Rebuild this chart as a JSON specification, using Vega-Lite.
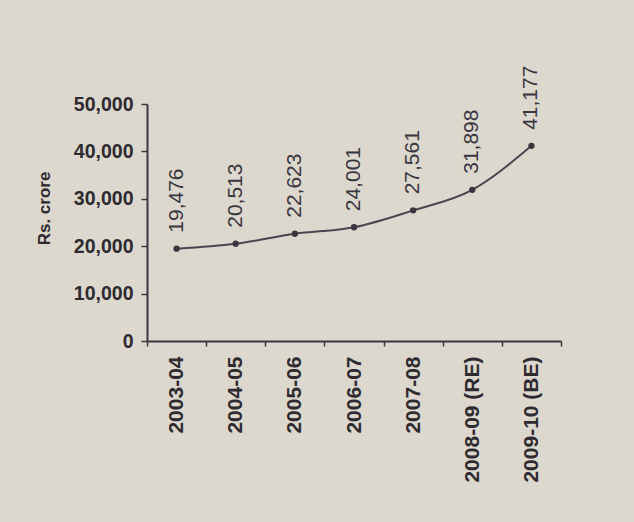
{
  "$schema": "https://vega.github.io/schema/vega-lite/v6.json",
  "autosize": "none",
  "padding": {"left": 147, "top": 104, "right": 73, "bottom": 181},
  "width": 414,
  "height": 237,
  "background": "#dcd8ce",
  "config": {
    "view": {"stroke": null},
    "font": "Liberation Sans"
  },
  "data": {
    "values": [
      {"year": "2003-04", "value": 19476},
      {"year": "2004-05", "value": 20513},
      {"year": "2005-06", "value": 22623},
      {"year": "2006-07", "value": 24001},
      {"year": "2007-08", "value": 27561},
      {"year": "2008-09 (RE)", "value": 31898},
      {"year": "2009-10 (BE)", "value": 41177}
    ]
  },
  "encoding": {
    "x": {
      "field": "year", "type": "ordinal", "sort": null,
      "scale": {"paddingInner": 0, "paddingOuter": 0},
      "axis": {
        "title": null, "labelAngle": -90, "labelAlign": "right", "labelBaseline": "middle",
        "labelFont": "Liberation Sans", "labelFontWeight": "bold", "labelFontSize": 21,
        "labelColor": "#2e2a30", "labelPadding": 10,
        "domainColor": "#3a3640", "domainWidth": 2, "tickColor": "#3a3640", "tickWidth": 1.5,
        "tickSize": 5, "tickBand": "extent"
      }
    },
    "y": {
      "field": "value", "type": "quantitative",
      "scale": {"domain": [0, 50000]},
      "axis": {
        "title": "Rs. crore", "titleFont": "Liberation Sans", "titleFontSize": 17, "titleFontWeight": "bold",
        "titleColor": "#2e2a30", "titlePadding": 20, "titleY": 104,
        "values": [0, 10000, 20000, 30000, 40000, 50000], "format": ",d",
        "labelFont": "Liberation Sans", "labelFontWeight": "bold", "labelFontSize": 19.5,
        "labelColor": "#2e2a30", "labelPadding": 8, "grid": false,
        "domainColor": "#3a3640", "domainWidth": 2, "tickColor": "#3a3640", "tickWidth": 1.5, "tickSize": 6
      }
    }
  },
  "layer": [
    {
      "mark": {"type": "line", "interpolate": "monotone", "color": "#4a4550", "strokeWidth": 2}
    },
    {
      "mark": {"type": "point", "filled": true, "color": "#3a3640", "size": 40, "opacity": 1}
    },
    {
      "mark": {"type": "text", "angle": -90, "align": "left", "baseline": "middle", "dx": 16,
               "font": "Liberation Sans", "fontSize": 21, "color": "#3a3640"},
      "encoding": {"text": {"field": "value", "type": "quantitative", "format": ",d"}}
    }
  ]
}
